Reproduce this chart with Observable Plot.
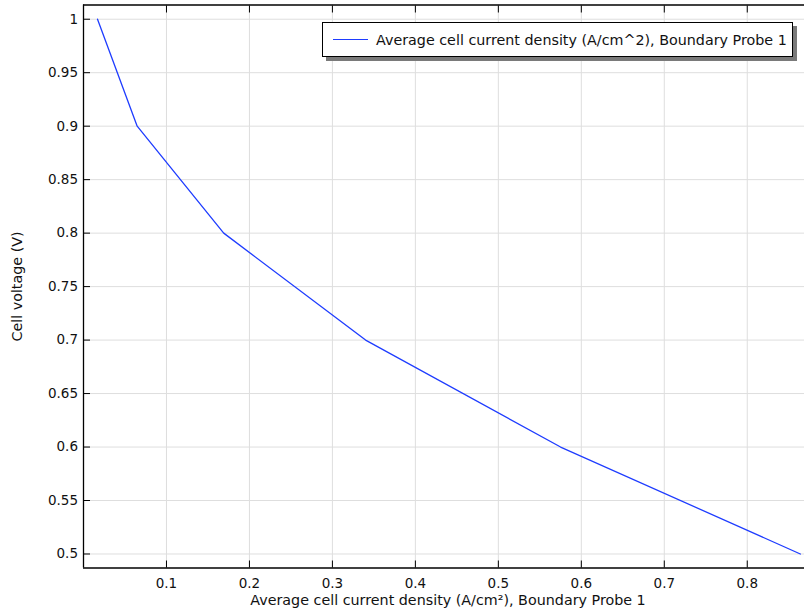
<!DOCTYPE html>
<html>
<head>
<meta charset="utf-8">
<script src="https://cdn.jsdelivr.net/npm/d3@7"></script>
<script src="https://cdn.jsdelivr.net/npm/@observablehq/plot@0.6"></script>
<style>
  html, body { margin: 0; padding: 0; background: #fff; }
  #chart { position: relative; width: 804px; height: 610px; font-family: "DejaVu Sans", sans-serif; }
  #legend {
    position: absolute; left: 322px; top: 22px; width: 469px; height: 33px;
    border: 1px solid #000; background: #fff; box-shadow: 4px 4px 0 #7a7a7a;
    display: flex; align-items: center; font-size: 14.3px; color: #111; white-space: nowrap;
  }
  #legend .swatch { width: 35px; height: 0; border-top: 1.3px solid #1e3cff; margin: 0 8px 0 10px; }
</style>
</head>
<body>
<div id="chart"></div>
<script>
// Polarization curve: cell voltage vs. average current density
const currentDensity = [0.0169, 0.0647, 0.169, 0.340, 0.575, 0.864];
const cellVoltage = [1.0, 0.9, 0.8, 0.7, 0.6, 0.5];

const xTicks = [0.1, 0.2, 0.3, 0.4, 0.5, 0.6, 0.7, 0.8];
const yTicks = [0.5, 0.55, 0.6, 0.65, 0.7, 0.75, 0.8, 0.85, 0.9, 0.95, 1];

const xDomain = [0, 0.869];
const yDomain = [0.4869, 1.0133];

const seriesName = "Average cell current density (A/cm^2), Boundary Probe 1";
const xLabel = "Average cell current density (A/cm²), Boundary Probe 1";
const yLabel = "Cell voltage (V)";

const rows = currentDensity.map((x, i) => ({x, y: cellVoltage[i]}));

const chart = Plot.plot({
  width: 804,
  height: 610,
  marginLeft: 83,
  marginTop: 4.5,
  marginRight: 0,
  marginBottom: 42.5,
  style: {fontFamily: "DejaVu Sans", fontSize: "13.5px", background: "#fff", color: "#111"},
  x: {domain: xDomain},
  y: {domain: yDomain},
  marks: [
    Plot.gridX(xTicks, {stroke: "#dedede", strokeOpacity: 1}),
    Plot.gridY(yTicks, {stroke: "#dedede", strokeOpacity: 1}),
    Plot.line(rows, {x: "x", y: "y", stroke: "#1e3cff", strokeWidth: 1.3}),
    Plot.ruleX([xDomain[0]], {stroke: "#000", strokeWidth: 1.3}),
    Plot.ruleY(yDomain, {stroke: "#000", strokeWidth: 1.3}),
    Plot.axisX(xTicks, {anchor: "bottom", tickSize: -7, tickPadding: 17, stroke: "#000", label: null}),
    Plot.axisX(xTicks, {anchor: "top", tickSize: -7, stroke: "#000", tickFormat: () => "", label: null}),
    Plot.axisY(yTicks, {anchor: "left", tickSize: -7, tickPadding: 12.5, stroke: "#000",
      tickFormat: d => String(d), label: null}),
    // Axis titles
    Plot.text([xLabel], {frameAnchor: "bottom", dx: 4, dy: 32.5, lineAnchor: "middle", textAnchor: "middle", fontSize: 14.3, fill: "#111"}),
    Plot.text([yLabel], {frameAnchor: "left", dx: -72, rotate: -90, lineAnchor: "top", textAnchor: "middle", fontSize: 14.3, fill: "#111"})
  ]
});

const host = document.getElementById("chart");
host.appendChild(chart);

const legend = document.createElement("div");
legend.id = "legend";
legend.innerHTML = `<span class="swatch"></span><span></span>`;
legend.lastChild.textContent = seriesName;
host.appendChild(legend);
</script>
</body>
</html>
